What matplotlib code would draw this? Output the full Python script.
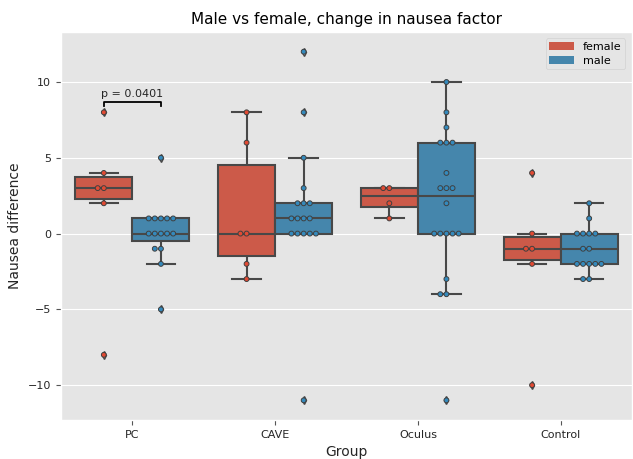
import numpy as np
import pandas as pd
import matplotlib
matplotlib.use("Agg")
import matplotlib.pyplot as plt
import matplotlib.patches as mpatches
import seaborn as sns

groups = ["PC", "CAVE", "Oculus", "Control"]
genders = ["female", "male"]

# nausea difference per group and gender
pc_female = [8, 4, 3, 3, 2, -8]
pc_male = [5, 1, 1, 1, 1, 1, 0, 0, 0, 0, 0, -1, -1, -2, -5]
cave_female = [8, 6, 0, 0, -2, -3]
cave_male = [12, 8, 5, 3, 2, 2, 2, 1, 1, 1, 1, 0, 0, 0, 0, 0, -11]
oculus_female = [3, 3, 2, 1]
oculus_male = [10, 8, 7, 6, 6, 6, 4, 3, 3, 3, 2, 0, 0, 0, 0, 0, -3, -4, -4, -11]
control_female = [4, 0, -1, -1, -2, -10]
control_male = [2, 1, 0, 0, 0, 0, -1, -1, -2, -2, -2, -2, -2, -3, -3]

p_value = 0.0401

data = {
    ("PC", "female"): pc_female, ("PC", "male"): pc_male,
    ("CAVE", "female"): cave_female, ("CAVE", "male"): cave_male,
    ("Oculus", "female"): oculus_female, ("Oculus", "male"): oculus_male,
    ("Control", "female"): control_female, ("Control", "male"): control_male,
}
rows = []
for (g, s), vals in data.items():
    for v in vals:
        rows.append({"Group": g, "Gender": s, "Nausea difference": v})
df = pd.DataFrame(rows)

plt.style.use("ggplot")
pal = ["#E24A33", "#348ABD"]

fig = plt.figure(figsize=(6.33, 4.59), dpi=100)
ax = fig.add_axes([61/633, 1 - 420/459, 571/633, 388/459])

sns.boxplot(data=df, x="Group", y="Nausea difference", hue="Gender",
            order=groups, hue_order=genders, palette=pal, saturation=0.75,
            linewidth=1.5, fliersize=4, width=0.8,
            flierprops=dict(marker="d"), ax=ax)
sns.swarmplot(data=df, x="Group", y="Nausea difference", hue="Gender",
              order=groups, hue_order=genders, palette=pal, dodge=True,
              size=3.5, edgecolor="#404040", linewidth=0.7, ax=ax)

# significance bracket for PC
x1, x2 = -0.2, 0.2
yb, h = 8.65, 0.2
ax.plot([x1, x1, x2, x2], [yb - h, yb, yb, yb - h], color="black", lw=1.3)
ax.text((x1 + x2) / 2, yb + 0.25, "p = %.4f" % p_value, ha="center", va="bottom",
        fontsize=8, color="#262626")

ax.set_ylim(-12.3, 13.3)
ax.set_xlim(-0.5, 3.5)
ax.set_yticks([-10, -5, 0, 5, 10])
ax.set_title("Male vs female, change in nausea factor", fontsize=11, color="black")
ax.set_xlabel("Group", fontsize=10, color="#262626")
ax.set_ylabel("Nausea difference", fontsize=10, color="#262626")
ax.tick_params(labelsize=8, colors="#555555", labelcolor="#262626")

handles = [mpatches.Patch(facecolor=sns.desaturate(c, 0.75), edgecolor="none")
           for c in pal]
ax.legend(handles, genders, loc="upper right", fontsize=8,
          bbox_to_anchor=(0.998, 0.998), handlelength=2.2, borderpad=0.35,
          labelspacing=0.3)

fig.savefig("out.png", dpi=100)
